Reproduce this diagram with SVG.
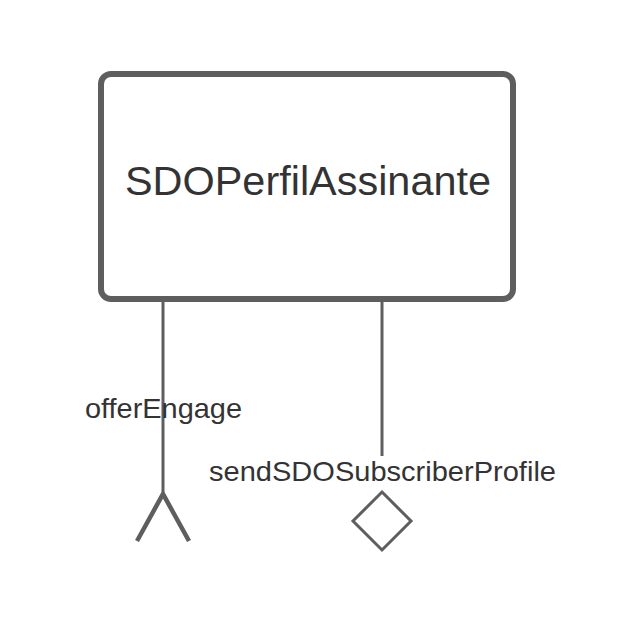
<svg xmlns="http://www.w3.org/2000/svg" width="632" height="628" viewBox="0 0 632 628">
<style>
.box{fill:#fff;stroke:#5e5e5e;stroke-width:6}
.ln{fill:none;stroke:#5e5e5e;stroke-width:3}
.end{fill:none;stroke:#5e5e5e;stroke-width:4.5}
.t{font-family:"Liberation Sans",Arial,sans-serif;fill:#333}
</style>
<rect width="632" height="628" fill="#fff"/>
<g id="connectors">
<line class="ln" x1="163" y1="299" x2="163" y2="492"/>
<polyline class="end" points="137,541 163,494 189,541"/>
<text class="t" x="85" y="418" font-size="28.5" textLength="157" lengthAdjust="spacingAndGlyphs">offerEngage</text>
<line class="ln" x1="382" y1="299" x2="382" y2="456"/>
<polygon class="ln" points="382,492 411,521 382,550 353,521"/>
<text class="t" x="209" y="481" font-size="28.5" textLength="347" lengthAdjust="spacingAndGlyphs">sendSDOSubscriberProfile</text>
</g>
<g id="node-SDOPerfilAssinante">
<rect class="box" x="101" y="74" width="412" height="225" rx="10"/>
<text class="t" x="125" y="195" font-size="40.5" textLength="366" lengthAdjust="spacingAndGlyphs">SDOPerfilAssinante</text>
</g>
</svg>
